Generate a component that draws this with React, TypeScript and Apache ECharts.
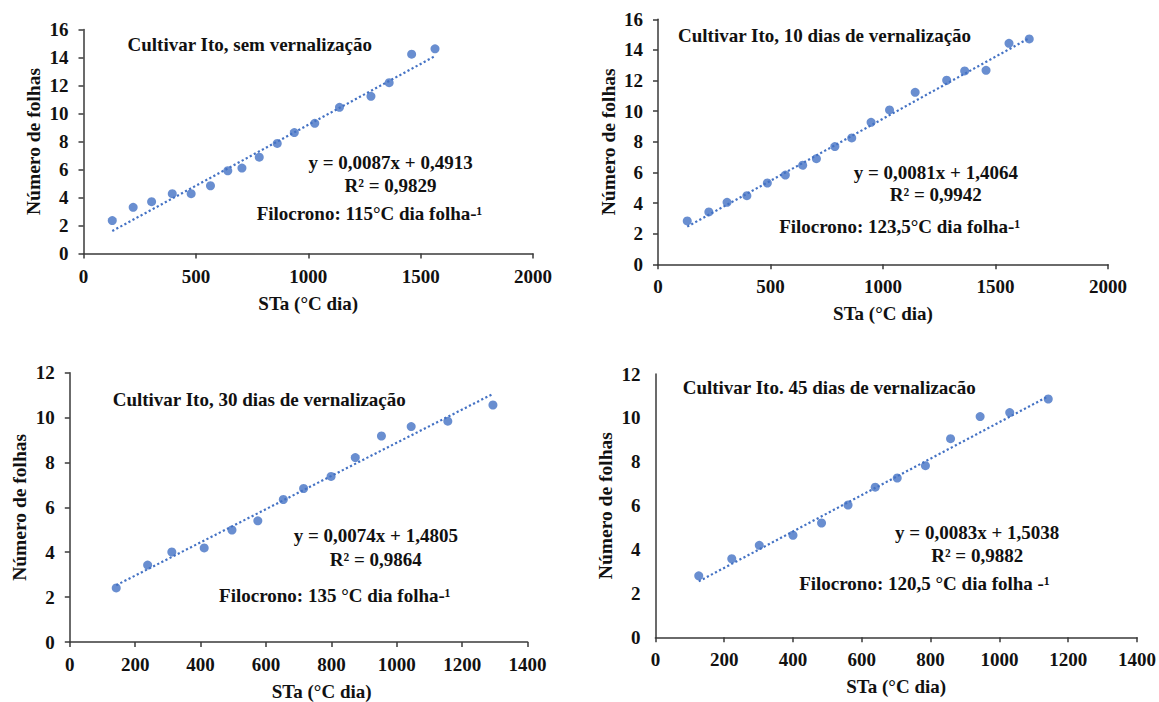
import React, { useEffect, useRef } from "react";
import * as echarts from "echarts";

// ---- Data ----
const p1X = [128, 221, 303, 395, 479, 565, 642, 705, 782, 862, 938, 1029, 1139, 1279, 1360, 1460, 1564];
const p1Y = [2.35, 3.3, 3.7, 4.27, 4.27, 4.84, 5.91, 6.1, 6.88, 7.86, 8.64, 9.3, 10.44, 11.23, 12.2, 14.24, 14.62];

const p2X = [130, 226, 307, 395, 486, 566, 643, 704, 786, 861, 947, 1029, 1143, 1283, 1363, 1458, 1560, 1650];
const p2Y = [2.83, 3.42, 4.05, 4.48, 5.31, 5.83, 6.47, 6.9, 7.69, 8.25, 9.27, 10.08, 11.23, 12.02, 12.63, 12.67, 14.43, 14.72];

const p3X = [142, 238, 312, 411, 496, 575, 653, 715, 799, 873, 953, 1044, 1156, 1294];
const p3Y = [2.41, 3.43, 4.01, 4.19, 4.99, 5.4, 6.35, 6.84, 7.38, 8.22, 9.18, 9.6, 9.84, 10.56];

const p4X = [126, 222, 302, 400, 483, 560, 639, 703, 785, 858, 944, 1030, 1142];
const p4Y = [2.8, 3.58, 4.19, 4.65, 5.21, 6.03, 6.84, 7.26, 7.82, 9.05, 10.06, 10.24, 10.86];

const slopes = [0.0087, 0.0081, 0.0074, 0.0083];
const intercepts = [0.4913, 1.4064, 1.4805, 1.5038];
const r2 = [0.9829, 0.9942, 0.9864, 0.9882];

const titles = [
  "Cultivar Ito, sem vernalização",
  "Cultivar Ito, 10 dias de vernalização",
  "Cultivar Ito, 30 dias de vernalização",
  "Cultivar Ito. 45 dias de vernalizacão",
];
const filocrono = [
  "Filocrono: 115°C dia folha-¹",
  "Filocrono: 123,5°C dia folha-¹",
  "Filocrono: 135 °C dia folha-¹",
  "Filocrono: 120,5 °C dia folha -¹",
];

const xMax = [2000, 2000, 1400, 1400];
const xInterval = [500, 500, 200, 200];
const yMax = [16, 16, 12, 12];
const yInterval = [2, 2, 2, 2];
const xAxisTitle = "STa (°C dia)";
const yAxisTitle = "Número de folhas";

// ---- Layout / style ----
const FONT = '"Liberation Serif", "Times New Roman", serif';
const BLUE = "#4472C4";
const AXIS = "#3a3a3a";
const TEXT = "#111111";

const grids = [
  { left: 83.5, top: 29.5, width: 449.5, height: 224 },
  { left: 658, top: 19.3, width: 450, height: 245 },
  { left: 69.8, top: 372.7, width: 457.8, height: 272 },
  { left: 655.4, top: 374, width: 482.9, height: 263.3 },
];
const yTicksShown = [true, true, true, false];
const xNameShift = [0, 0, 46, 0];

const titlePos = [
  [127.5, 44.3],
  [678, 35],
  [112.7, 399.3],
  [682.7, 387.3],
];
const eqPos = [
  [390.6, 162.7, 185.7],
  [935.8, 172.7, 194.3],
  [375.8, 535.3, 559.3],
  [977.2, 532.7, 555],
];
const filoPos = [
  [369.5, 213],
  [899.6, 226.7],
  [334.8, 595],
  [924.4, 583.3],
];

const fmt = (v: number) => v.toFixed(4).replace(".", ",");

export default function App() {
  const ref = useRef<HTMLDivElement>(null);

  useEffect(() => {
    if (!ref.current) return;
    const chart = echarts.init(ref.current, undefined, { renderer: "svg" });
    const xs = [p1X, p2X, p3X, p4X];
    const ys = [p1Y, p2Y, p3Y, p4Y];

    const xAxis: any[] = [];
    const yAxis: any[] = [];
    const series: any[] = [];
    const graphic: any[] = [];

    const labelStyle = {
      fontFamily: FONT,
      fontWeight: "bold",
      fontSize: 19,
      color: TEXT,
      formatter: (v: number) => String(v),
    };

    for (let i = 0; i < 4; i++) {
      xAxis.push({
        type: "value",
        gridIndex: i,
        min: 0,
        max: xMax[i],
        interval: xInterval[i],
        name: xAxisTitle,
        nameLocation: "middle",
        nameGap: 40,
        nameMoveOverlap: false,
        nameTextStyle: {
          fontFamily: FONT,
          fontWeight: "bold",
          fontSize: 19,
          color: TEXT,
          padding: [0, 0, 0, xNameShift[i]],
        },
        axisLine: { show: true, lineStyle: { color: AXIS, width: 1.5 } },
        axisTick: { show: true, length: 5, lineStyle: { color: AXIS, width: 1.5 } },
        axisLabel: { ...labelStyle, margin: 13 },
        splitLine: { show: false },
      });
      yAxis.push({
        type: "value",
        gridIndex: i,
        min: 0,
        max: yMax[i],
        interval: yInterval[i],
        name: yAxisTitle,
        nameLocation: "middle",
        nameGap: 40,
        nameRotate: 90,
        nameMoveOverlap: false,
        nameTextStyle: { fontFamily: FONT, fontWeight: "bold", fontSize: 19.5, color: TEXT },
        axisLine: { show: true, lineStyle: { color: AXIS, width: 1.5 } },
        axisTick: { show: yTicksShown[i], length: 5, lineStyle: { color: AXIS, width: 1.5 } },
        axisLabel: { ...labelStyle, margin: 15 },
        splitLine: { show: false },
      });

      const pts = xs[i].map((x, k) => [x, ys[i][k]]);
      series.push({
        type: "scatter",
        xAxisIndex: i,
        yAxisIndex: i,
        data: pts,
        symbol: "circle",
        symbolSize: 9,
        itemStyle: { color: BLUE },
        z: 2,
      });
      const x0 = xs[i][0];
      const x1 = xs[i][xs[i].length - 1];
      series.push({
        type: "line",
        xAxisIndex: i,
        yAxisIndex: i,
        data: [
          [x0, slopes[i] * x0 + intercepts[i]],
          [x1, slopes[i] * x1 + intercepts[i]],
        ],
        symbol: "none",
        lineStyle: { color: BLUE, width: 2.2, type: [2.2, 2.4] },
        z: 3,
      });

      const textStyle = (text: string, align: string) => ({
        text,
        font: `bold 19px ${FONT}`,
        fill: TEXT,
        textAlign: align,
        align,
        textVerticalAlign: "middle",
        verticalAlign: "middle",
      });
      graphic.push({
        type: "text",
        x: titlePos[i][0],
        y: titlePos[i][1],
        style: textStyle(titles[i], "left"),
        z: 10,
      });
      graphic.push({
        type: "text",
        x: eqPos[i][0],
        y: eqPos[i][1],
        style: textStyle(`y = ${fmt(slopes[i])}x + ${fmt(intercepts[i])}`, "center"),
        z: 10,
      });
      graphic.push({
        type: "text",
        x: eqPos[i][0],
        y: eqPos[i][2],
        style: textStyle(`R² = ${fmt(r2[i])}`, "center"),
        z: 10,
      });
      graphic.push({
        type: "text",
        x: filoPos[i][0],
        y: filoPos[i][1],
        style: textStyle(filocrono[i], "center"),
        z: 10,
      });
    }

    chart.setOption({
      animation: false,
      backgroundColor: "#ffffff",
      grid: grids.map((g) => ({ ...g, containLabel: false })),
      xAxis,
      yAxis,
      series,
      graphic,
    });

    return () => chart.dispose();
  }, []);

  return (
    <div
      ref={ref}
      style={{ position: "fixed", left: 0, top: 0, width: 1159, height: 702, background: "#fff" }}
    />
  );
}
